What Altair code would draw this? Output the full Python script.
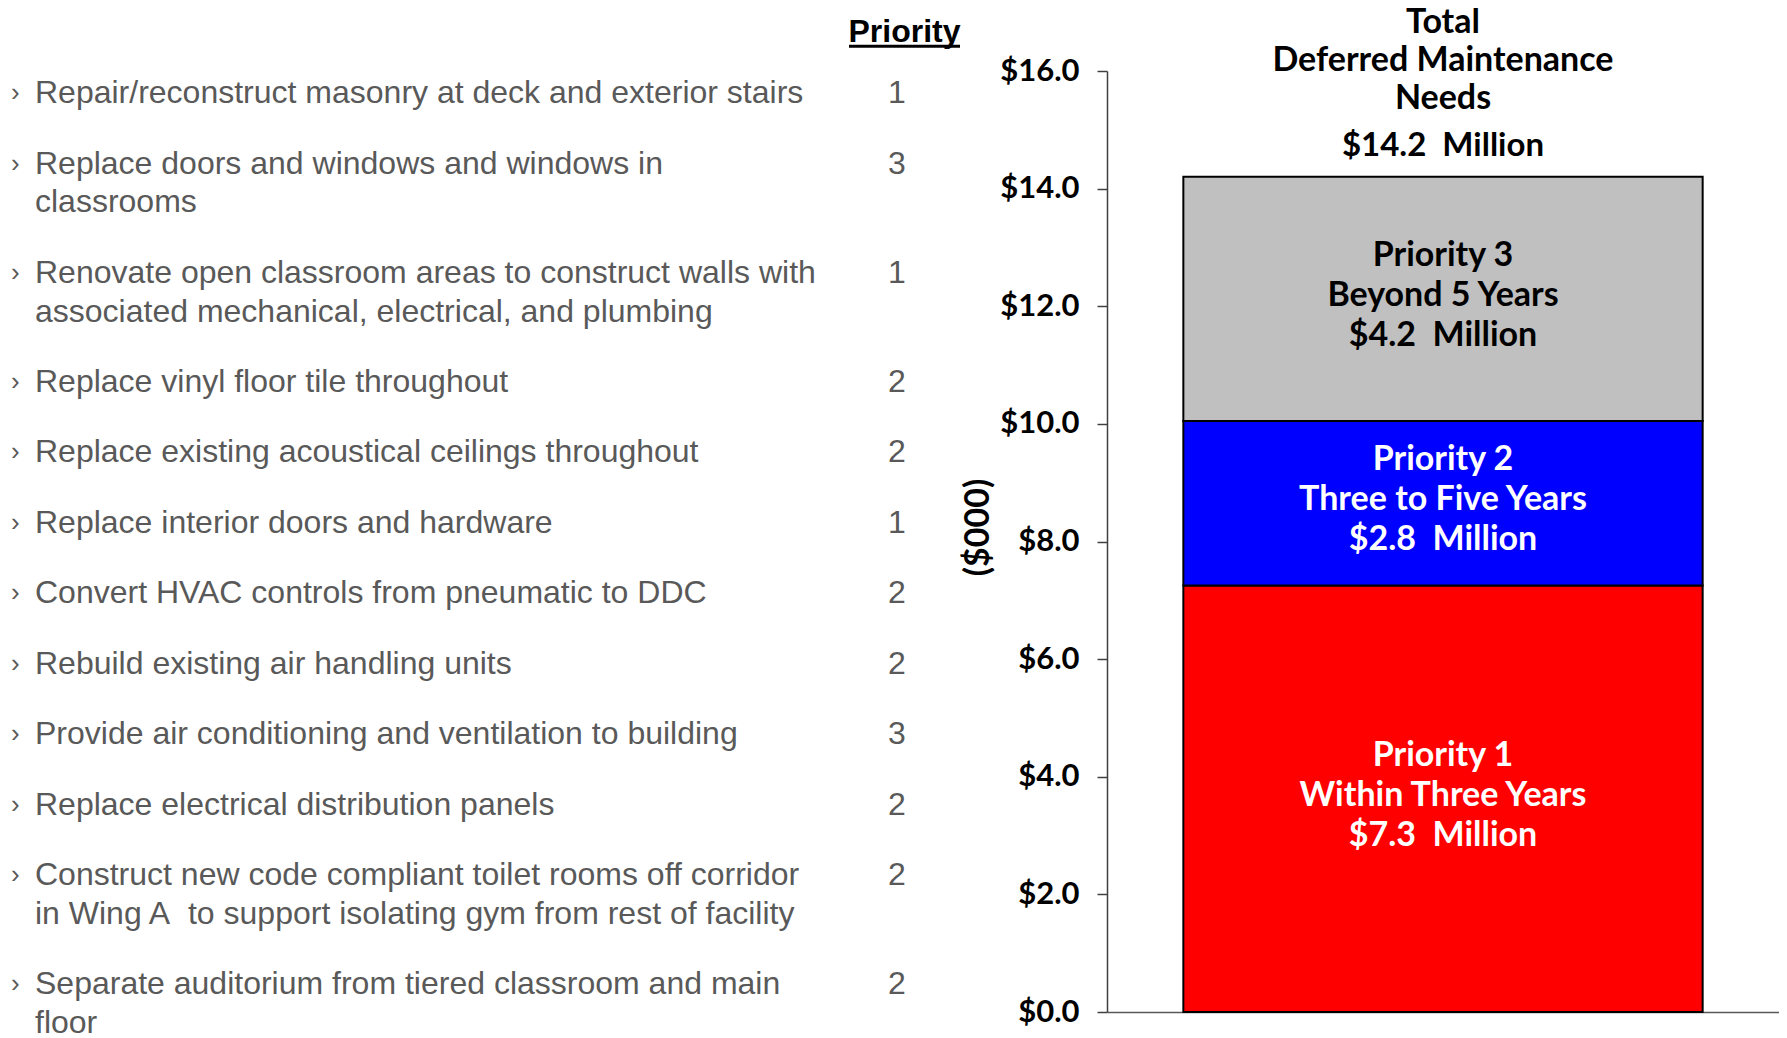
import altair as alt
import pandas as pd

# ---------------- data ----------------
items = [
    "Repair/reconstruct masonry at deck and exterior stairs",
    "Replace doors and windows and windows in\nclassrooms",
    "Renovate open classroom areas to construct walls with\nassociated mechanical, electrical, and plumbing",
    "Replace vinyl floor tile throughout",
    "Replace existing acoustical ceilings throughout",
    "Replace interior doors and hardware",
    "Convert HVAC controls from pneumatic to DDC",
    "Rebuild existing air handling units",
    "Provide air conditioning and ventilation to building",
    "Replace electrical distribution panels",
    "Construct new code compliant toilet rooms off corridor\nin Wing A\u00a0 to support isolating gym from rest of facility",
    "Separate auditorium from tiered classroom and main\nfloor",
]
item_priority = [1, 3, 1, 2, 2, 1, 2, 2, 3, 2, 2, 2]
header_text = "Priority"

segment_priority = [1, 2, 3]
segment_names = ["Within Three Years", "Three to Five Years", "Beyond 5 Years"]
segment_values = [7.25, 2.8, 4.15]          # $ millions
segment_colors = ["#FF0000", "#0000FF", "#C0C0C0"]
bar_category = "Total"
title_lines = ["Total", "Deferred Maintenance", "Needs"]
y_ticks = [0, 2, 4, 6, 8, 10, 12, 14, 16]
y_title = "($000)"

# ---------------- list table ----------------
WRAP = 0.55  # a wrapped line takes this share of an item's spacing
line_rows, first_rows = [], []
extra = 0
for i, (txt, pr) in enumerate(zip(items, item_priority)):
    parts = txt.split("\n")
    base_pos = i + WRAP * extra
    first_rows.append({"pos": base_pos, "priority": str(pr)})
    for j, ln in enumerate(parts):
        line_rows.append({"pos": base_pos + WRAP * j, "text": ln})
    extra += len(parts) - 1
lines_df = pd.DataFrame(line_rows)
first_df = pd.DataFrame(first_rows)

ITEM_FONT = "Liberation Sans"
BAR_FONT = "Lato"
GRAY = "#595959"

list_x = alt.Scale(domain=[0, 1], range=[-1072, -210], nice=False, zero=False)
list_y = alt.Scale(domain=[0, 12], range=[22.2, 867.4], nice=False, zero=False)

item_lines = alt.Chart(lines_df).transform_calculate(col="0").mark_text(
    align="left", baseline="middle", font=ITEM_FONT, fontSize=32, color=GRAY
).encode(
    x=alt.X("col:Q", scale=list_x, axis=None),
    y=alt.Y("pos:Q", scale=list_y, axis=None),
    text="text:N",
)

bullets = alt.Chart(first_df).transform_calculate(col="0", b="'\u203a'").mark_text(
    align="left", baseline="middle", font=ITEM_FONT, fontSize=26, color=GRAY, dx=-24
).encode(
    x=alt.X("col:Q", scale=list_x, axis=None),
    y=alt.Y("pos:Q", scale=list_y, axis=None),
    text="b:N",
)

prio = alt.Chart(first_df).transform_calculate(col="1").mark_text(
    align="center", baseline="middle", font=ITEM_FONT, fontSize=32, color=GRAY
).encode(
    x=alt.X("col:Q", scale=list_x, axis=None),
    y=alt.Y("pos:Q", scale=list_y, axis=None),
    text="priority:N",
)

head_base = alt.Chart(first_df).transform_aggregate(pos="min(pos)").transform_calculate(
    col="1", label="'" + header_text + "'"
)
header = head_base.mark_text(
    align="center", baseline="middle", font=ITEM_FONT, fontSize=32,
    fontWeight="bold", color="black", dx=7.5, dy=-61.5
).encode(
    x=alt.X("col:Q", scale=list_x, axis=None),
    y=alt.Y("pos:Q", scale=list_y, axis=None),
    text="label:N",
)
underline = head_base.mark_rule(
    color="black", strokeWidth=3, xOffset=-48, x2Offset=63, yOffset=-47
).encode(
    x=alt.X("col:Q", scale=list_x, axis=None),
    x2="col:Q",
    y=alt.Y("pos:Q", scale=list_y, axis=None),
)

list_group = alt.layer(item_lines, bullets, prio, header, underline)

# ---------------- bar ----------------
seg_df = pd.DataFrame({
    "priority": segment_priority,
    "name": segment_names,
    "value": segment_values,
    "group": [bar_category] * len(segment_values),
})

x_scale = alt.Scale(paddingInner=0, paddingOuter=0.147)
x_axis = alt.Axis(labels=False, ticks=False, title=None, domainColor="#595959", domainWidth=1.5)
y_scale = alt.Scale(domain=[0, 16], nice=False, zero=True)
y_axis = alt.Axis(
    values=y_ticks, format="$.1f", grid=False,
    labelFont=BAR_FONT, labelFontWeight="bold", labelFontSize=31, labelColor="black",
    labelPadding=18, tickSize=10, tickColor="#404040", tickWidth=1.5,
    domainColor="#404040", domainWidth=1.5,
    title=y_title, titleFont=BAR_FONT, titleFontWeight="bold", titleFontSize=34,
    titleColor="black", titleX=-129, titleY=456, titleAngle=270,
    titleAlign="center", titleBaseline="middle",
)

SEG_LH = 40
stacked = alt.Chart(seg_df).transform_stack(
    stack="value", groupby=["group"], sort=[alt.SortField("priority")], as_=["y0", "y1"]
).transform_calculate(
    mid="(datum.y0 + datum.y1) / 2",
    label="'Priority ' + datum.priority + '\\n' + datum.name + '\\n$' + format(datum.value, '.1f') + '\u00a0 Million'",
)

bars = stacked.mark_bar(stroke="black", strokeWidth=2).encode(
    x=alt.X("group:N", scale=x_scale, axis=x_axis),
    y=alt.Y("y0:Q", scale=y_scale, axis=y_axis),
    y2="y1:Q",
    color=alt.Color("priority:O", scale=alt.Scale(domain=segment_priority, range=segment_colors), legend=None),
)

seg_labels = stacked.mark_text(
    font=BAR_FONT, fontWeight="bold", fontSize=34, lineBreak="\n", lineHeight=SEG_LH,
    baseline="middle", align="center", dy=-3 - SEG_LH
).encode(
    x=alt.X("group:N", scale=x_scale, axis=x_axis),
    y=alt.Y("mid:Q", scale=y_scale, axis=y_axis),
    text="label:N",
    color=alt.condition("datum.priority == 3", alt.value("black"), alt.value("white")),
)

totals = alt.Chart(seg_df).transform_aggregate(total="sum(value)", groupby=["group"]).transform_calculate(
    label="'$' + format(datum.total, '.1f') + '\u00a0 Million'"
)
total_label = totals.mark_text(
    font=BAR_FONT, fontWeight="bold", fontSize=33, baseline="middle", align="center",
    color="black", dy=-31
).encode(
    x=alt.X("group:N", scale=x_scale, axis=x_axis),
    y=alt.Y("total:Q", scale=y_scale, axis=y_axis),
    text="label:N",
)
title_label = totals.mark_text(
    font=BAR_FONT, fontWeight="bold", fontSize=34, baseline="middle", align="center",
    color="black", dy=-154, lineBreak="\n", lineHeight=38.3
).encode(
    x=alt.X("group:N", scale=x_scale, axis=x_axis),
    y=alt.Y("total:Q", scale=y_scale, axis=y_axis),
    text=alt.value("\n".join(title_lines)),
)

bar_group = alt.layer(bars, seg_labels, total_label, title_label)

chart = alt.layer(bar_group, list_group).resolve_scale(
    x="independent", y="independent"
).properties(
    width=672, height=941,
    autosize=alt.AutoSizeParams(type="none"),
    padding={"left": 1099, "top": 63, "right": 0, "bottom": 22},
).configure_view(stroke=None)

chart.save("out.html", embed_options={"renderer": "svg", "actions": False})
